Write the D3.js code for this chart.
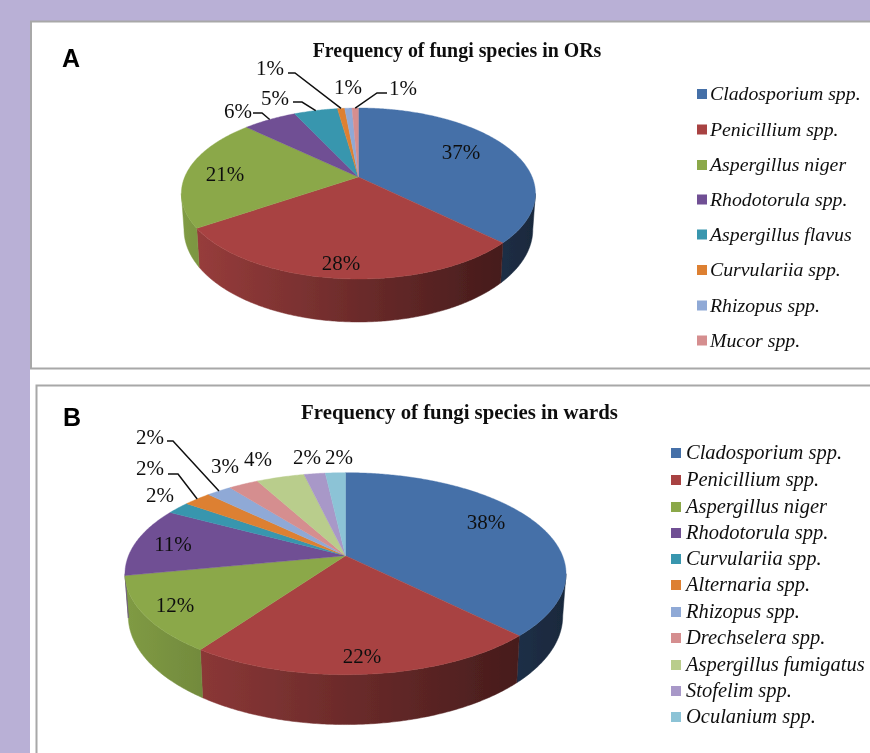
<!DOCTYPE html>
<html><head><meta charset="utf-8">
<script src="https://cdn.jsdelivr.net/npm/d3@7"></script>
<style>html,body{margin:0;padding:0;background:#fff}svg{display:block}text{fill:#111}</style>
</head><body><svg id="c" width="870" height="753"></svg>
<script>
// ---- data ----
const speciesA = ["Cladosporium spp.","Penicillium spp.","Aspergillus niger","Rhodotorula spp.","Aspergillus flavus","Curvulariia spp.","Rhizopus spp.","Mucor spp."];
const valuesA  = [37.2,28.4,21.4,5.9,4.8,0.8,0.8,0.7];
const colorsA  = ["#4570a8","#a84342","#8ba84a","#6f4f94","#3896ae","#dd8030","#8fa9d6","#d58e8f"];
const speciesB = ["Cladosporium spp.","Penicillium spp.","Aspergillus niger","Rhodotorula spp.","Curvulariia spp.","Alternaria spp.","Rhizopus spp.","Drechselera spp.","Aspergillus fumigatus","Stofelim spp.","Oculanium spp."];
const valuesB  = [37.7,22,12.2,11.1,2.05,2.4,2.2,2.6,4.2,1.85,1.75];
const colorsB  = ["#4570a8","#a84342","#8ba84a","#6f4f94","#3896ae","#dd8030","#8fa9d6","#d58e8f","#b9cd8c","#a898c8","#8cc3d6"];

// ---- layout (not data) ----
const layoutA = {id:"a",title:"Frequency of fungi species in ORs",titleX:457,titleY:57,titleSize:19.9,
  cx:358.4,cy:177,R:173.7,Ry:82.3,k:0.193,d0:34.7,
  legendSwatchX:697,legendTextX:710,legendY:[94,129.5,165,199.5,234.5,270,305.5,340.5],legendSize:19.8,
  labelPos:[[461,152],[341,263],[225,174],[238,111],[275,98],[270,68],[348,87],[403,88]],
  leaders:[null,null,null,[[253,113],[262,113]],[[293,102],[302,102]],[[288,73],[295,73]],null,[[387,93],[377,93]]]};
const layoutB = {id:"b",title:"Frequency of fungi species in wards",titleX:459.5,titleY:419,titleSize:20.8,
  cx:345.5,cy:555.7,R:217,Ry:97.8,k:0.178,d0:41,
  legendSwatchX:671,legendTextX:686,legendY:[453,480,507,533,559,585,612,638,665,691,717],legendSize:20.5,
  labelPos:[[486,522],[362,656],[175,605],[173,544],[160,495],[150,468],[150,437],[225,466],[258,459],[307,457],[339,457]],
  leaders:[null,null,null,null,null,[[168,474],[178,474]],[[167,441],[173,441]],null,null,null,null]};

const root = d3.select("#c");
const defs = root.append("defs");
defs.append("filter").attr("id","soft").attr("filterUnits","userSpaceOnUse")
  .attr("x",-20).attr("y",-20).attr("width",910).attr("height",793)
  .append("feGaussianBlur").attr("stdDeviation",0.45);
const svg = root.append("g").attr("filter","url(#soft)");
const PANEL_STROKE = "#a8a8a8";

// page + panels
svg.append("rect").attr("x",-15).attr("y",-15).attr("width",900).attr("height",783).attr("fill","#fff");
svg.append("rect").attr("x",-15).attr("y",-15).attr("width",900).attr("height",36).attr("fill","#b9b0d6");
svg.append("rect").attr("x",-15).attr("y",-15).attr("width",45).attr("height",783).attr("fill","#b9b0d6");
svg.append("path").attr("d","M885,21.5H31V368.5H885").attr("fill","none").attr("stroke",PANEL_STROKE).attr("stroke-width",2);
svg.append("path").attr("d","M885,385.5H36.5V770").attr("fill","none").attr("stroke",PANEL_STROKE).attr("stroke-width",2);
svg.append("text").text("A").attr("x",62).attr("y",67).attr("font-family","Liberation Sans").attr("font-weight","bold").attr("font-size",25).style("fill","#000");
svg.append("text").text("B").attr("x",63).attr("y",426).attr("font-family","Liberation Sans").attr("font-weight","bold").attr("font-size",25).style("fill","#000");

function drawPie(species, values, colors, L){
  const g = svg.append("g");
  const arcs = d3.pie().sort(null).value(d=>d)(values);
  const sx = d3.scaleLinear().domain([-1,1]).range([L.cx-L.R,L.cx+L.R]);
  const sy = d3.scaleLinear().domain([-1,1]).range([L.cy-L.Ry,L.cy+L.Ry]);
  const project = (a,low)=>{
    const X=Math.sin(a), Y=-Math.cos(a), w=1-L.k*Y;
    const shrink = low?0.985:1;
    return [L.cx+(sx(X/w)-L.cx)*shrink, sy(Y/w)+(low?L.d0/w:0)];
  };
  const samples = (a0,a1)=>{
    const n=Math.max(2,Math.ceil((a1-a0)/0.01));
    return d3.range(n+1).map(i=>a0+(a1-a0)*i/n);
  };
  const line = d3.line();

  // side walls, only the part facing the viewer
  const wallFrom = Math.acos(-L.k), wallTo = 2*Math.PI-wallFrom;
  const left = L.cx-L.R*1.02, right = L.cx+L.R*1.02;
  arcs.forEach((d,i)=>{
    const a0=Math.max(d.startAngle,wallFrom), a1=Math.min(d.endAngle,wallTo);
    if(a1<=a0) return;
    const c=d3.rgb(colors[i]);
    const gid=`wall-${L.id}-${i}`;
    const lg=defs.append("linearGradient").attr("id",gid).attr("gradientUnits","userSpaceOnUse")
      .attr("x1",left).attr("x2",right).attr("y1",0).attr("y2",0);
    const mul=(c,s)=>d3.rgb(c.r*s,c.g*s,c.b*s).formatHex();
    lg.append("stop").attr("offset",0).attr("stop-color",mul(c,0.92));
    lg.append("stop").attr("offset",1).attr("stop-color",mul(c,0.36));
    const pts=samples(a0,a1);
    g.append("path").attr("d",line([...pts.map(a=>project(a,false)),...pts.slice().reverse().map(a=>project(a,true))])+"Z")
      .attr("fill",`url(#${gid})`).attr("stroke",`url(#${gid})`).attr("stroke-width",0.5);
  });
  // top face
  arcs.forEach((d,i)=>{
    const pts=samples(d.startAngle,d.endAngle).map(a=>project(a,false));
    g.append("path").attr("d",line([[L.cx,L.cy],...pts])+"Z").attr("fill",colors[i])
      .attr("stroke",colors[i]).attr("stroke-width",0.4).attr("stroke-linejoin","round");
  });
  // leaders
  arcs.forEach((d,i)=>{
    if(!L.leaders[i]) return;
    const end=project((d.startAngle+d.endAngle)/2,false);
    g.append("path").attr("d",line([...L.leaders[i],end])).attr("fill","none").attr("stroke","#111").attr("stroke-width",1.5);
  });
  // value labels
  g.selectAll("text.val").data(arcs).join("text").attr("class","val")
    .attr("x",(d,i)=>L.labelPos[i][0]).attr("y",(d,i)=>L.labelPos[i][1]+6.5)
    .attr("text-anchor","middle").attr("font-family","Liberation Serif").attr("font-size",21)
    .text(d=>Math.round(d.value)+"%");
  // title
  g.append("text").text(L.title).attr("x",L.titleX).attr("y",L.titleY).attr("text-anchor","middle")
    .attr("font-family","Liberation Serif").attr("font-weight","bold").attr("font-size",L.titleSize);
  // legend
  species.forEach((s,i)=>{
    g.append("rect").attr("x",L.legendSwatchX).attr("y",L.legendY[i]-5).attr("width",10).attr("height",10).attr("fill",colors[i]);
    g.append("text").text(s).attr("x",L.legendTextX).attr("y",L.legendY[i]+6)
      .attr("font-family","Liberation Serif").attr("font-style","italic").attr("font-size",L.legendSize);
  });
}
drawPie(speciesA,valuesA,colorsA,layoutA);
drawPie(speciesB,valuesB,colorsB,layoutB);
</script></body></html>
